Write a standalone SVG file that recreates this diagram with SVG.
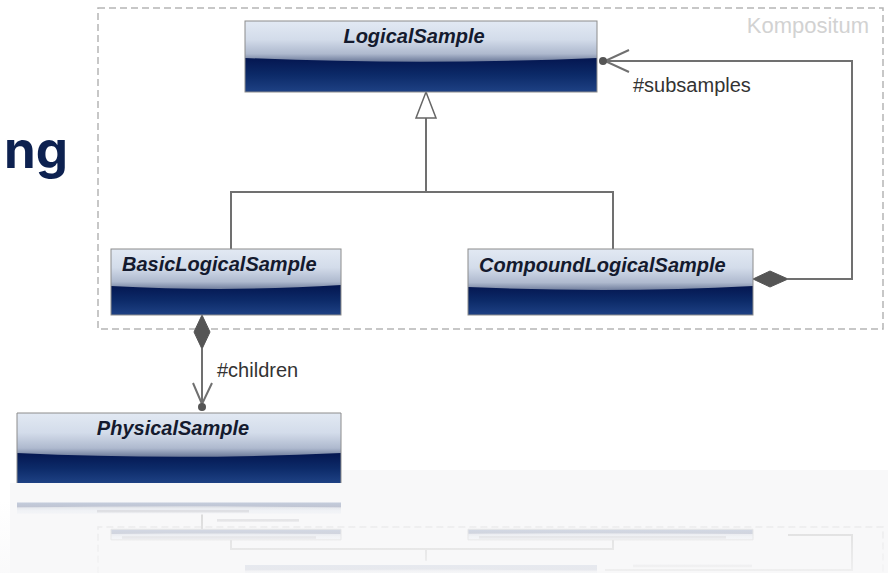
<svg xmlns="http://www.w3.org/2000/svg" width="888" height="573" viewBox="0 0 888 573">
<defs>
  <linearGradient id="hdr" x1="0" y1="0" x2="0" y2="1">
    <stop offset="0" stop-color="#e2e9f3"/>
    <stop offset="0.45" stop-color="#d3dcea"/>
    <stop offset="0.8" stop-color="#aeb9ce"/>
    <stop offset="1" stop-color="#6a7898"/>
  </linearGradient>
  <linearGradient id="drk" x1="0" y1="0" x2="0" y2="1">
    <stop offset="0" stop-color="#041650"/>
    <stop offset="0.5" stop-color="#0c2a68"/>
    <stop offset="1" stop-color="#1e4184"/>
  </linearGradient>
  <linearGradient id="fade" x1="0" y1="0" x2="0" y2="1">
    <stop offset="0" stop-color="#f8f8f9" stop-opacity="0"/>
    <stop offset="1" stop-color="#f8f8f9" stop-opacity="0.75"/>
  </linearGradient>
</defs>
<style>
  .bx{fill:none;stroke:#8c8c8c;stroke-width:1}
  .hd{fill:url(#hdr)}
  .dk{fill:url(#drk)}
  .nm{font-family:"Liberation Sans",Arial,sans-serif;font-weight:bold;font-style:italic;font-size:20px;fill:#141a2e}
  .lbl{font-family:"Liberation Sans",Arial,sans-serif;font-size:20px;fill:#333333}
  .ln{fill:none;stroke:#707070;stroke-width:2}
  .dm{fill:#555555;stroke:#555555;stroke-width:1}
  .frame{fill:none;stroke:#b5b5b5;stroke-width:1.5;stroke-dasharray:7 4}
  .rf .ln,.rf .bx,.rf .frame{vector-effect:non-scaling-stroke}
  .sm{fill:#333344;opacity:0.5}
</style>

<!-- background band of reflection area -->
<path d="M341,470 H888 V573 H10 V483 H341 Z" fill="#f8f8f9"/>

<!-- heading fragment -->
<text x="4" y="168" font-family="Inter, Lato, 'Liberation Sans', sans-serif" font-weight="700" font-size="51" fill="#0d2150">ng</text>

<!-- frame -->
<g id="kompositum">
  <rect class="frame" x="98" y="8" width="785" height="321"/>
  <text x="869" y="33" text-anchor="end" font-family="'Liberation Sans', Arial, sans-serif" font-size="22" fill="#d2d2d2">Kompositum</text>
</g>

<g id="connectors">
  <!-- generalization -->
  <path class="ln" d="M426,118 V192 M231,249 V192 H613 V249"/>
  <path d="M426,92 L436,118 H416 Z" fill="#ffffff" stroke="#666666" stroke-width="1.5"/>
  <!-- subsamples composition -->
  <path class="ln" d="M788,279 H852 V61 H605"/>
  <path class="dm" d="M753,279 L770,271 L788,279 L770,287 Z"/>
  <path class="ln" d="M629,50 L605,61 L629,72"/>
  <circle cx="603" cy="61" r="4" fill="#555555"/>
  <text class="lbl" x="633" y="92">#subsamples</text>
  <!-- children composition -->
  <path class="ln" d="M202,349 V404"/>
  <path class="dm" d="M202,315 L210,332 L202,349 L194,332 Z"/>
  <path class="ln" d="M193,383 L202,404 L212,383"/>
  <circle cx="202" cy="407" r="4" fill="#555555"/>
  <text class="lbl" x="217" y="377">#children</text>
</g>

<g id="LogicalSample">
  <rect class="hd" x="245" y="21" width="352" height="41"/>
  <path class="dk" d="M245,58 C362,63 480,63 597,58 V92 H245 Z"/>
  <rect class="bx" x="245" y="21" width="352" height="71"/>
  <text class="nm" x="414" y="43" text-anchor="middle">LogicalSample</text>
</g>

<g id="BasicLogicalSample">
  <rect class="hd" x="111" y="249" width="230" height="41"/>
  <path class="dk" d="M111,286 C188,290 264,290 341,285 V315 H111 Z"/>
  <rect class="bx" x="111" y="249" width="230" height="66"/>
  <text class="nm" x="122" y="271">BasicLogicalSample</text>
</g>

<g id="CompoundLogicalSample">
  <rect class="hd" x="468" y="249" width="285" height="42"/>
  <path class="dk" d="M468,287 C563,291 658,291 753,286 V315 H468 Z"/>
  <rect class="bx" x="468" y="249" width="285" height="66"/>
  <text class="nm" x="479" y="272">CompoundLogicalSample</text>
</g>

<g id="PhysicalSample">
  <rect class="hd" x="17" y="413" width="324" height="44"/>
  <path class="dk" d="M17,453 C125,458 233,458 341,453 V483 H17 Z"/>
  <path class="bx" d="M17,483 V413 H341 V483"/>
  <text class="nm" x="173" y="435" text-anchor="middle">PhysicalSample</text>
</g>

<!-- reflection -->
<g id="reflection" class="rf" opacity="0.24" transform="translate(0,579.7) scale(1,-0.16)">
  <rect class="frame" x="98" y="8" width="785" height="321"/>
  <path class="ln" d="M426,118 V192 M231,249 V192 H613 V249 M788,279 H852 V61 H605 M202,315 V408"/>
  <rect class="hd" x="245" y="21" width="352" height="41"/>
  <path class="dk" d="M245,58 C362,63 480,63 597,58 V92 H245 Z"/>
  <rect class="hd" x="111" y="249" width="230" height="41"/>
  <path class="dk" d="M111,286 C188,290 264,290 341,285 V315 H111 Z"/>
  <rect class="bx" x="111" y="249" width="230" height="66"/>
  <rect class="hd" x="468" y="249" width="285" height="42"/>
  <path class="dk" d="M468,287 C563,291 658,291 753,286 V315 H468 Z"/>
  <rect class="bx" x="468" y="249" width="285" height="66"/>
  <rect class="hd" x="17" y="413" width="324" height="44"/>
  <path class="dk" d="M17,453 C125,458 233,458 341,453 V483 H17 Z"/>
  <rect class="sm" x="97" y="420" width="152" height="16"/>
  <rect class="sm" x="122" y="256" width="194" height="16"/>
  <rect class="sm" x="479" y="257" width="247" height="16"/>
  <rect class="sm" x="217" y="363" width="82" height="16"/>
  <rect class="sm" x="633" y="78" width="119" height="16"/>
</g>
<rect x="0" y="500" width="888" height="73" fill="url(#fade)"/>
</svg>
